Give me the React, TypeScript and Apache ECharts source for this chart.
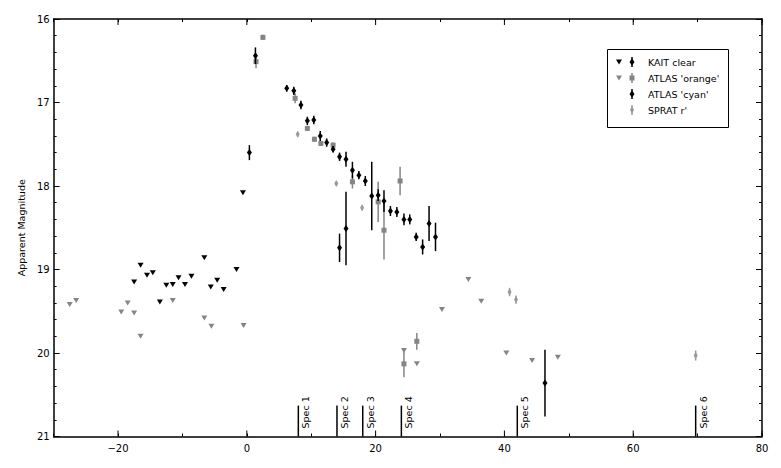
import React, { useEffect, useRef } from 'react';
import * as echarts from 'echarts';

const FONT = 'DejaVu Sans';

// KAIT clear upper limits
const kaitLimX = [-17.5, -16.5, -15.5, -14.6, -13.5, -12.5, -11.5, -10.6, -9.6, -8.6, -6.6, -5.6, -4.6, -3.6, -1.6, -0.6];
const kaitLimY = [19.15, 18.95, 19.07, 19.04, 19.39, 19.19, 19.18, 19.10, 19.18, 19.08, 18.86, 19.21, 19.13, 19.24, 19.0, 18.08];
// KAIT clear detections
const kaitX = [0.4, 1.34, 6.2, 7.3, 8.4, 9.4, 10.4, 11.4, 12.4, 13.4, 14.4, 15.4, 16.4, 17.4, 18.4, 20.4, 21.3, 22.3, 23.3, 24.4, 25.3, 26.3, 27.3, 29.3];
const kaitY = [17.6, 16.44, 16.83, 16.86, 17.03, 17.22, 17.21, 17.40, 17.48, 17.56, 17.65, 17.68, 17.81, 17.87, 17.94, 18.11, 18.18, 18.30, 18.31, 18.40, 18.40, 18.61, 18.73, 18.61];
const kaitErr = [0.09, 0.1, 0.04, 0.05, 0.05, 0.05, 0.05, 0.06, 0.05, 0.04, 0.05, 0.09, 0.1, 0.05, 0.06, 0.07, 0.13, 0.06, 0.06, 0.07, 0.06, 0.05, 0.09, 0.17];
// ATLAS 'orange' upper limits
const atlasOLimX = [-27.5, -26.5, -19.5, -18.5, -17.5, -16.5, -11.5, -6.6, -5.5, -0.5, 24.4, 26.4, 30.3, 34.4, 36.4, 40.3, 44.3, 48.3];
const atlasOLimY = [19.42, 19.37, 19.51, 19.40, 19.52, 19.80, 19.37, 19.58, 19.68, 19.67, 19.97, 20.13, 19.48, 19.12, 19.38, 20.0, 20.09, 20.05];
// ATLAS 'orange' detections
const atlasOX = [1.43, 2.5, 7.5, 9.4, 10.5, 11.5, 13.4, 16.4, 20.4, 21.3, 23.8, 24.4, 26.4];
const atlasOY = [16.51, 16.22, 16.95, 17.31, 17.44, 17.49, 17.51, 17.95, 18.19, 18.53, 17.94, 20.13, 19.86];
const atlasOErr = [0.08, 0.03, 0.06, 0.03, 0.03, 0.03, 0.03, 0.08, 0.24, 0.35, 0.17, 0.16, 0.1];
// ATLAS 'cyan' detections
const atlasCX = [14.4, 15.4, 19.4, 28.3, 46.3];
const atlasCY = [18.74, 18.51, 18.12, 18.45, 20.36];
const atlasCErr = [0.17, 0.44, 0.41, 0.21, 0.4];
// SPRAT r'
const spratX = [7.9, 13.9, 17.9, 40.8, 41.8, 69.7];
const spratY = [17.38, 17.97, 18.26, 19.27, 19.36, 20.03];
const spratErr = [0.03, 0.03, 0.03, 0.05, 0.05, 0.06];
// Spectra epochs
const specX = [8, 14, 18, 24, 42, 69.7];
const specLabels = ['Spec 1', 'Spec 2', 'Spec 3', 'Spec 4', 'Spec 5', 'Spec 6'];
// Axis ticks
const xMajorTicks = [-20, 0, 20, 40, 60, 80];
const X_MIN = -30, X_MAX = 80, Y_MIN = 16, Y_MAX = 21;

const BLACK = '#000000';
const GRAY = '#858585';
const LIGHT = '#9a9a9a';

function pts(xs: number[], ys: number[]) {
  return xs.map((x, i) => [x, ys[i]]);
}

function errSeries(name: string, xs: number[], ys: number[], es: number[], color: string, z: number) {
  return {
    type: 'custom', name, z, silent: true, clip: false,
    data: xs.map((x, i) => [x, ys[i], es[i]]),
    renderItem: (_p: any, api: any) => {
      const x = api.value(0), y = api.value(1), e = api.value(2);
      const a = api.coord([x, y - e]);
      const b = api.coord([x, y + e]);
      return { type: 'line', shape: { x1: a[0], y1: a[1], x2: b[0], y2: b[1] }, style: { stroke: color, lineWidth: 1.5 } };
    },
  };
}

function scatter(name: string, data: number[][], symbol: string, size: any, color: string, z: number, rotate = 0) {
  return {
    type: 'scatter', name, data, symbol, symbolSize: size, symbolRotate: rotate, z, silent: true,
    itemStyle: { color, opacity: 1 }, emphasis: { disabled: true },
  };
}

function tri(cx: number, cy: number, color: string) {
  return { type: 'polygon', shape: { points: [[cx - 3, cy - 2.5], [cx + 3, cy - 2.5], [cx, cy + 2.5]] }, style: { fill: color } };
}
function diamond(cx: number, cy: number, w: number, h: number, color: string) {
  return { type: 'polygon', shape: { points: [[cx, cy - h / 2], [cx + w / 2, cy], [cx, cy + h / 2], [cx - w / 2, cy]] }, style: { fill: color } };
}
function vbar(cx: number, cy: number, half: number, color: string) {
  return { type: 'line', shape: { x1: cx, y1: cy - half, x2: cx, y2: cy + half }, style: { stroke: color, lineWidth: 1.5 } };
}
function ltext(x: number, y: number, t: string) {
  return { type: 'text', x, y, style: { text: t, fill: '#000', font: `9.5px "${FONT}"`, verticalAlign: 'middle', align: 'left' } };
}

export default function App() {
  const ref = useRef<HTMLDivElement>(null);
  useEffect(() => {
    if (!ref.current) return;
    const chart = echarts.init(ref.current, null, { renderer: 'svg' });
    const axisLine = { show: true, onZero: false, lineStyle: { color: '#000', width: 1.5 } };
    const labelStyle = { color: '#000', fontFamily: FONT, fontSize: 10 };
    const xFmt = (v: number) => (v % 20 === 0 ? String(v).replace('-', '\u2212') : '');
    const lx = 611, dx = 624, tx = 640;
    const rows = [54, 70, 86, 102];
    const option: any = {
      animation: false,
      backgroundColor: '#ffffff',
      grid: { left: 39, right: 27, top: 11, bottom: 39.5, show: false },
      xAxis: [
        {
          type: 'value', min: X_MIN, max: X_MAX, interval: 10, position: 'bottom',
          axisLine, splitLine: { show: false },
          axisTick: { show: true, inside: true, length: 3, lineStyle: { color: '#000', width: 1 } },
          axisLabel: { ...labelStyle, margin: 7, formatter: xFmt, showMinLabel: true, showMaxLabel: true },
        },
        {
          type: 'value', min: X_MIN, max: X_MAX, interval: 10, position: 'top',
          axisLine, splitLine: { show: false },
          axisTick: { show: true, inside: true, length: 3, lineStyle: { color: '#000', width: 1 } },
          axisLabel: { show: false },
        },
      ],
      yAxis: [
        {
          type: 'value', min: Y_MIN, max: Y_MAX, interval: 1, inverse: true, position: 'left',
          name: 'Apparent Magnitude', nameLocation: 'middle', nameGap: 24, nameRotate: 90,
          nameTextStyle: { color: '#000', fontFamily: FONT, fontSize: 9.5 },
          axisLine, splitLine: { show: false },
          axisTick: { show: true, inside: true, length: 6, lineStyle: { color: '#000', width: 1 } },
          minorTick: { show: true, splitNumber: 5, length: 3, lineStyle: { color: '#000', width: 1 } },
          axisLabel: { ...labelStyle, margin: 4, showMinLabel: true, showMaxLabel: true },
        },
        {
          type: 'value', min: Y_MIN, max: Y_MAX, interval: 1, inverse: true, position: 'right',
          axisLine, splitLine: { show: false },
          axisTick: { show: true, inside: true, length: 6, lineStyle: { color: '#000', width: 1 } },
          minorTick: { show: true, splitNumber: 5, length: 3, lineStyle: { color: '#000', width: 1 } },
          axisLabel: { show: false },
        },
      ],
      series: [
        {
          type: 'custom', name: 'xMajorTicks', silent: true, clip: false, z: 1,
          data: xMajorTicks.map((v) => [v, Y_MAX]),
          renderItem: (_p: any, api: any) => {
            const v = api.value(0);
            const b = api.coord([v, Y_MAX]);
            const t = api.coord([v, Y_MIN]);
            return {
              type: 'group', children: [
                { type: 'line', shape: { x1: b[0], y1: b[1], x2: b[0], y2: b[1] - 6 }, style: { stroke: '#000', lineWidth: 1 } },
                { type: 'line', shape: { x1: t[0], y1: t[1], x2: t[0], y2: t[1] + 6 }, style: { stroke: '#000', lineWidth: 1 } },
              ],
            };
          },
        },
        {
          type: 'custom', name: 'spectra', silent: true, clip: false, z: 2,
          data: specX.map((x, i) => [x, Y_MAX, i]),
          renderItem: (_p: any, api: any) => {
            const x = api.value(0);
            const i = api.value(2);
            const b = api.coord([x, Y_MAX]);
            const t = api.coord([x, 20.63]);
            return {
              type: 'group', children: [
                { type: 'line', shape: { x1: b[0], y1: b[1], x2: t[0], y2: t[1] }, style: { stroke: '#000', lineWidth: 1.5 } },
                {
                  type: 'text', x: b[0] + 2.5, y: b[1] - 8, rotation: Math.PI / 2,
                  style: { text: specLabels[i], fill: '#000', font: `9.5px "${FONT}"`, align: 'left', verticalAlign: 'top' },
                },
              ],
            };
          },
        },
        scatter('KAIT clear limits', pts(kaitLimX, kaitLimY), 'triangle', [6, 5], BLACK, 5, 180),
        errSeries('KAIT clear err', kaitX, kaitY, kaitErr, BLACK, 5),
        scatter('KAIT clear', pts(kaitX, kaitY), 'diamond', [5, 7], BLACK, 6),
        scatter("ATLAS 'orange' limits", pts(atlasOLimX, atlasOLimY), 'triangle', [6, 5], GRAY, 3, 180),
        errSeries("ATLAS 'orange' err", atlasOX, atlasOY, atlasOErr, GRAY, 3),
        scatter("ATLAS 'orange'", pts(atlasOX, atlasOY), 'rect', [5, 5], GRAY, 4),
        errSeries("ATLAS 'cyan' err", atlasCX, atlasCY, atlasCErr, BLACK, 5),
        scatter("ATLAS 'cyan'", pts(atlasCX, atlasCY), 'diamond', [5, 7], BLACK, 6),
        errSeries("SPRAT r' err", spratX, spratY, spratErr, LIGHT, 3),
        scatter("SPRAT r'", pts(spratX, spratY), 'diamond', [4, 7], LIGHT, 4),
      ],
      graphic: [
        {
          type: 'group', z: 100, children: [
            { type: 'rect', shape: { x: 599.5, y: 41.5, width: 121, height: 78 }, style: { fill: '#fff', stroke: '#000', lineWidth: 1 } },
            tri(lx, rows[0], BLACK), vbar(dx, rows[0], 5, BLACK), diamond(dx, rows[0], 5, 7, BLACK), ltext(tx, rows[0], 'KAIT clear'),
            tri(lx, rows[1], GRAY), vbar(dx, rows[1], 5, GRAY),
            { type: 'rect', shape: { x: dx - 2.5, y: rows[1] - 2.5, width: 5, height: 5 }, style: { fill: GRAY } },
            ltext(tx, rows[1], "ATLAS 'orange'"),
            vbar(dx, rows[2], 5, BLACK), diamond(dx, rows[2], 5, 7, BLACK), ltext(tx, rows[2], "ATLAS 'cyan'"),
            vbar(dx, rows[3], 5, LIGHT), diamond(dx, rows[3], 4, 7, LIGHT), ltext(tx, rows[3], "SPRAT r'"),
          ],
        },
      ],
    };
    chart.setOption(option);
    return () => chart.dispose();
  }, []);
  return <div ref={ref} style={{ width: 781, height: 468 }} />;
}
